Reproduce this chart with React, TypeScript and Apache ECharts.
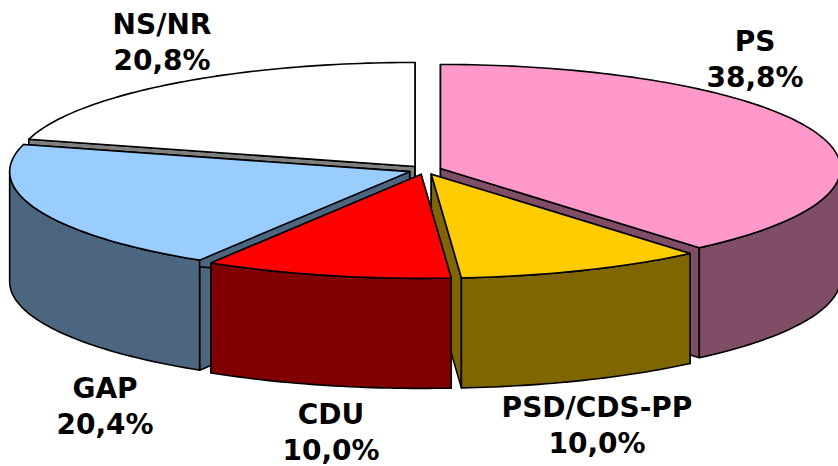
import React, { useEffect, useRef } from "react";
import * as echarts from "echarts";

const categories = ["PS", "PSD/CDS-PP", "CDU", "GAP", "NS/NR"];
const shares = [38.8, 10.0, 10.0, 20.4, 20.8];
const topColors = ["#FF99CC", "#FFCC00", "#FF0000", "#99CCFF", "#FFFFFF"];
const wallColors = ["#804D66", "#806600", "#800000", "#4D6680", "#808080"];
const paintOrder = [1, 3, 4, 2, 0];
const labelCentres = [
  [755, 41],
  [597, 407],
  [331, 414],
  [105, 388],
  [162, 24],
];

const CX = 425;
const CY = 170;
const RX = 400;
const RY = 104;
const DEPTH = 110;
const EXPLODE_X = 16.5;
const EXPLODE_Y = 4.5;
const LINE_GAP = 36.5;
const TOTAL = shares.reduce((a, b) => a + b, 0);
const FONT = '"DejaVu Sans", sans-serif';

const arc = (cx: number, cy: number, from: number, to: number, dy = 0) => {
  const steps = Math.max(2, Math.ceil(Math.abs(to - from) / 0.02));
  const pts: number[][] = [];
  for (let i = 0; i <= steps; i++) {
    const t = from + ((to - from) * i) / steps;
    pts.push([cx + RX * Math.sin(t), cy - RY * Math.cos(t) + dy]);
  }
  return pts;
};

const renderSlice = (params: any, api: any) => {
  const i = params.dataIndex;
  const value = api.value(0);
  const before = shares.slice(0, i).reduce((a, b) => a + b, 0);
  const start = (before / TOTAL) * Math.PI * 2;
  const end = start + (value / TOTAL) * Math.PI * 2;
  const mid = (start + end) / 2;
  const cx = CX + EXPLODE_X * Math.sin(mid);
  const cy = CY - EXPLODE_Y * Math.cos(mid);
  const z = paintOrder[i] * 10;
  const line = { stroke: "#000", lineWidth: 1.6, lineJoin: "round" };
  const wallStyle = { fill: wallColors[i], ...line };
  const children: any[] = [];

  const edge = (t: number) => {
    const o = arc(cx, cy, t, t)[0];
    children.push({
      type: "polygon",
      z2: z,
      shape: { points: [[cx, cy], o, [o[0], o[1] + DEPTH], [cx, cy + DEPTH]] },
      style: wallStyle,
    });
  };
  edge(start);
  edge(end);

  const a = Math.max(start, Math.PI / 2);
  const b = Math.min(end, (Math.PI * 3) / 2);
  if (b > a) {
    children.push({
      type: "polygon",
      z2: z + 1,
      shape: { points: [...arc(cx, cy, a, b), ...arc(cx, cy, b, a, DEPTH)] },
      style: wallStyle,
    });
  }
  children.push({
    type: "polygon",
    z2: z + 2,
    shape: { points: [[cx, cy], ...arc(cx, cy, start, end)] },
    style: { fill: topColors[i], ...line },
  });
  const percent = `${value.toFixed(1).replace(".", ",")}%`;
  [categories[i], percent].forEach((text, row) => {
    children.push({
      type: "text",
      z2: 100,
      x: labelCentres[i][0],
      y: labelCentres[i][1] + row * LINE_GAP,
      style: {
        text,
        font: `bold 28px ${FONT}`,
        fill: "#000",
        align: "center",
        verticalAlign: "middle",
      },
    });
  });
  return { type: "group", children };
};

export default function App() {
  const ref = useRef<HTMLDivElement>(null);
  useEffect(() => {
    document.body.style.margin = "0";
    document.body.style.overflow = "hidden";
    const chart = echarts.init(ref.current!, undefined, { renderer: "svg" });
    chart.setOption({
      animation: false,
      backgroundColor: "#fff",
      series: [
        {
          type: "custom",
          coordinateSystem: "none",
          renderItem: renderSlice,
          data: categories.map((name, i) => ({ name, value: [shares[i]] })),
        },
      ],
    });
    return () => chart.dispose();
  }, []);
  return <div ref={ref} style={{ width: 838, height: 466 }} />;
}
